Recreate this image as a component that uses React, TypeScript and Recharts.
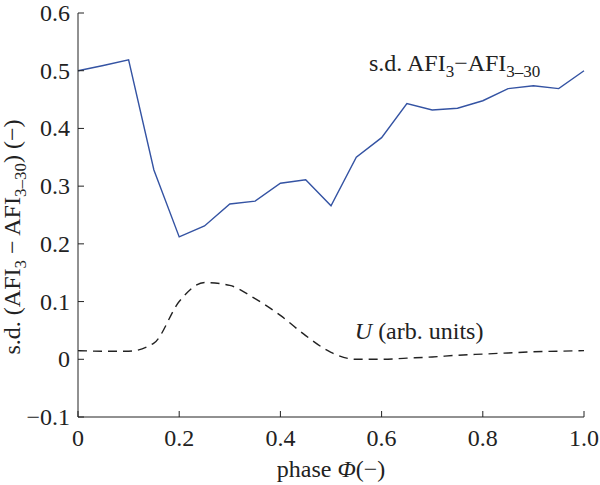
import React from 'react';
import { LineChart, Line, XAxis, YAxis, ReferenceDot } from 'recharts';

const phase = [0, 0.05, 0.1, 0.15, 0.2, 0.25, 0.3, 0.35, 0.4, 0.45, 0.5, 0.55, 0.6, 0.65, 0.7, 0.75, 0.8, 0.85, 0.9, 0.95, 1.0];
const sdValues = [0.5, 0.509, 0.519, 0.328, 0.212, 0.231, 0.269, 0.274, 0.305, 0.311, 0.266, 0.35, 0.384, 0.443, 0.432, 0.435, 0.448, 0.469, 0.474, 0.469, 0.5];
const uValues = [0.015, 0.014, 0.014, 0.028, 0.1, 0.133, 0.128, 0.105, 0.076, 0.041, 0.012, 0.0, 0.0, 0.002, 0.004, 0.007, 0.009, 0.011, 0.013, 0.014, 0.015];

const xTicks = [0, 0.2, 0.4, 0.6, 0.8, 1.0];
const yTicks = [-0.1, 0, 0.1, 0.2, 0.3, 0.4, 0.5, 0.6];

const FONT = '"Liberation Serif", "Times New Roman", serif';
const INK = '#222';
const TICK_LEN = 6;

const data = phase.map((p, i) => ({ phase: p, sd: sdValues[i], u: uValues[i] }));

const fmtX = (v: number) => (v === 0 ? '0' : v.toFixed(1));
const fmtY = (v: number) => {
  const r = Math.round(v * 10) / 10;
  if (r === 0) return '0';
  return r < 0 ? '\u2212' + Math.abs(r).toFixed(1) : r.toFixed(1);
};

// ticks are drawn inward, labels outside
const BottomTick = ({ x, y, payload }: any) => (
  <g>
    <line x1={x} x2={x} y1={y} y2={y - TICK_LEN} stroke={INK} strokeWidth={1} />
    <text x={x} y={y + 29} textAnchor="middle" fontFamily={FONT} fontSize={24} fill={INK}>
      {fmtX(payload.value)}
    </text>
  </g>
);

const TopTick = ({ x, y }: any) => (
  <line x1={x} x2={x} y1={y} y2={y + TICK_LEN} stroke={INK} strokeWidth={1} />
);

const LeftTick = ({ x, y, payload }: any) => (
  <g>
    <line x1={x} x2={x + TICK_LEN} y1={y} y2={y} stroke={INK} strokeWidth={1} />
    <text x={x - 8} y={y + 8} textAnchor="end" fontFamily={FONT} fontSize={24} fill={INK}>
      {fmtY(payload.value)}
    </text>
  </g>
);

const RightTick = ({ x, y }: any) => (
  <line x1={x} x2={x - TICK_LEN} y1={y} y2={y} stroke={INK} strokeWidth={1} />
);

const YTitle = ({ viewBox }: any) => {
  const cx = viewBox.x + 20;
  const cy = viewBox.y + viewBox.height / 2 + 22;
  return (
    <text
      x={cx}
      y={cy}
      transform={`rotate(-90, ${cx}, ${cy})`}
      textAnchor="middle"
      fontFamily={FONT}
      fontSize={24}
      fill={INK}
    >
      s.d. (AFI
      <tspan dy={6} fontSize={17}>3</tspan>
      <tspan dy={-6}> {'\u2212'} AFI</tspan>
      <tspan dy={6} fontSize={17}>3{'\u2013'}30</tspan>
      <tspan dy={-6}>) ({'\u2212'})</tspan>
    </text>
  );
};

const XTitle = ({ viewBox }: any) => (
  <text
    x={viewBox.x + viewBox.width / 2}
    y={viewBox.y + 60}
    textAnchor="middle"
    fontFamily={FONT}
    fontSize={24}
    fill={INK}
  >
    phase <tspan fontStyle="italic">{'\u03A6'}</tspan>({'\u2212'})
  </text>
);

const SdLabel = ({ viewBox }: any) => (
  <text x={viewBox.x} y={viewBox.y} fontFamily={FONT} fontSize={24} fill={INK}>
    s.d. AFI
    <tspan dy={6} fontSize={17}>3</tspan>
    <tspan dy={-6}>{'\u2212'}AFI</tspan>
    <tspan dy={6} fontSize={17}>3{'\u2013'}30</tspan>
  </text>
);

const ULabel = ({ viewBox }: any) => (
  <text x={viewBox.x} y={viewBox.y} fontFamily={FONT} fontSize={24} fill={INK}>
    <tspan fontStyle="italic">U</tspan> (arb. units)
  </text>
);

export default function App() {
  return (
    <div style={{ position: 'absolute', left: 0, top: 0, background: '#fff' }}>
      <LineChart width={600} height={485} data={data} margin={{ top: 13, right: 16, left: 0, bottom: 0 }}>
        <XAxis
          dataKey="phase"
          type="number"
          domain={[0, 1]}
          ticks={xTicks}
          height={68}
          tickSize={0}
          tickMargin={0}
          tick={<BottomTick />}
          axisLine={{ stroke: INK, strokeWidth: 1 }}
          label={<XTitle />}
        />
        <XAxis
          xAxisId="top"
          orientation="top"
          type="number"
          domain={[0, 1]}
          ticks={xTicks}
          height={0}
          tickSize={0}
          tickMargin={0}
          tick={<TopTick />}
          axisLine={{ stroke: INK, strokeWidth: 1 }}
        />
        <YAxis
          type="number"
          domain={[-0.1, 0.6]}
          ticks={yTicks}
          width={78}
          tickSize={0}
          tickMargin={0}
          tick={<LeftTick />}
          axisLine={{ stroke: INK, strokeWidth: 1 }}
          label={<YTitle />}
          allowDataOverflow
        />
        <YAxis
          yAxisId="right"
          orientation="right"
          type="number"
          domain={[-0.1, 0.6]}
          ticks={yTicks}
          width={0}
          tickSize={0}
          tickMargin={0}
          tick={<RightTick />}
          axisLine={{ stroke: INK, strokeWidth: 1 }}
        />
        <Line
          type="linear"
          dataKey="sd"
          stroke="#3453a3"
          strokeWidth={1.4}
          dot={false}
          isAnimationActive={false}
        />
        <Line
          type="monotone"
          dataKey="u"
          stroke={INK}
          strokeWidth={1.4}
          strokeDasharray="9 6"
          dot={false}
          isAnimationActive={false}
        />
        <ReferenceDot x={0.575} y={0.5} r={0} fill="none" stroke="none" label={<SdLabel />} />
        <ReferenceDot x={0.547} y={0.036} r={0} fill="none" stroke="none" label={<ULabel />} />
      </LineChart>
    </div>
  );
}
